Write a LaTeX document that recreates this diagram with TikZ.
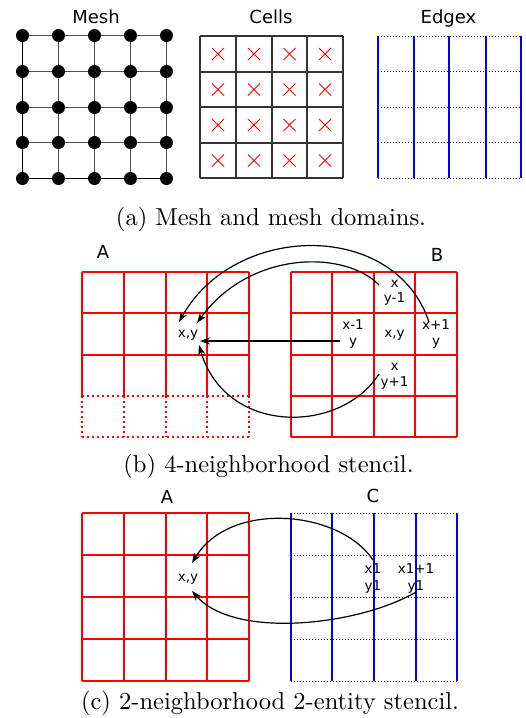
\documentclass[tikz,border=0pt]{standalone}
\usepackage{fontspec}
\usetikzlibrary{arrows.meta}
\newfontfamily\djv{DejaVu Sans}
\newfontfamily\capfont{lmroman10-regular}[Extension=.otf]
\begin{document}
\begin{tikzpicture}[x=1pt,y=-1pt,
  lbl/.style={font=\djv\fontsize{18}{20}\selectfont, anchor=base, inner sep=0pt},
  sm/.style={font=\djv\fontsize{13.5}{15.5}\selectfont, align=center, inner sep=0.5pt},
  smc/.style={font=\djv\fontsize{13.5}{17}\selectfont, align=center, inner sep=0.5pt},
  captxt/.style={font=\capfont\fontsize{24.5}{28}\selectfont, anchor=base, inner sep=0pt},
  arr/.style={-{Stealth[length=10pt,width=7pt,inset=3pt]}, line width=1.2pt, black},
  meshl/.style={black!70, line width=1pt},
  celll/.style={black!80, line width=2pt},
  redl/.style={red, line width=2pt},
  bluel/.style={blue, line width=2pt},
  dotl/.style={black, line width=1pt, dash pattern=on 1pt off 2pt},
  reddot/.style={red, line width=2pt, dash pattern=on 2pt off 3pt},
  crossl/.style={red, line width=1pt}
]
\useasboundingbox (0,0) rectangle (526,718);

% ---------- (a) ----------
\node[lbl] (mesh) at (96,23.5) {Mesh};
\node[lbl] (cells) at (271,23.5) {Cells};
\node[lbl] (edgex) at (448.5,23.5) {Edgex};

\foreach \v in {22.5,58.5,94.5,130.5,166.5}
  \draw[meshl] (\v,35.5) -- (\v,178.5);
\foreach \v in {35.5,71.5,107.5,142.5,178.5}
  \draw[meshl] (22.5,\v) -- (166.5,\v);
\draw[black, line width=1pt] (22.5,35.5) -- (22.5,178.5) -- (166.5,178.5);
\foreach \u in {22.5,58.5,94.5,130.5,166.5}
  \foreach \v in {35.5,71.5,107.5,142.5,178.5}
    \fill (\u,\v) circle[radius=6.5pt];

\foreach \v in {200,236,272,307,343}
  \draw[celll] (\v,36) -- (\v,178);
\foreach \v in {36,72,107,143,178}
  \draw[celll] (200,\v) -- (343,\v);
\foreach \u in {218,254,289.5,325}
  \foreach \v in {54,89.5,125,160.5} {
    \draw[crossl] (\u-6,\v-6) -- (\u+6,\v+6);
    \draw[crossl] (\u-6,\v+6) -- (\u+6,\v-6);
  }

\foreach \v in {36.5,71.5,107.5,142.5,178.5}
  \draw[dotl] (378,\v) -- (521,\v);
\foreach \v in {378,414,449,486,521}
  \draw[bluel] (\v,36) -- (\v,178);

\node[captxt] (capa) at (271,225) {(a) Mesh and mesh domains.};

% ---------- (b) ----------
\node[lbl] (bA) at (103,258) {A};
\node[lbl] (bB) at (437,261) {B};

\foreach \v in {82,124,166,207,249}
  \draw[redl] (\v,272) -- (\v,396);
\foreach \v in {272,313,355}
  \draw[redl] (82,\v) -- (249,\v);
\foreach \v in {82,124,166,207,249}
  \draw[reddot] (\v,396) -- (\v,437);
\foreach \v in {396,437}
  \draw[reddot] (82,\v) -- (249,\v);

\foreach \v in {291,332,374,415,457}
  \draw[redl] (\v,272) -- (\v,437);
\foreach \v in {272,313,355,396,437}
  \draw[redl] (291,\v) -- (457,\v);

\node[sm] (bxy) at (188,335.7) {x,y};
\node[sm] (bup) at (394.5,292.6) {x\\y-1};
\node[sm] (bleft) at (353,334) {x-1\\y};
\node[sm] (bmid) at (394.5,335.5) {x,y};
\node[sm] (bright) at (436,334) {x+1\\y};
\node[sm] (bdown) at (394.5,376) {x\\y+1};

\coordinate (b1s) at (340,341);
\coordinate (b1e) at (200,341);
\coordinate (b2s) at (379,285);
\coordinate (b2e) at (197,323);
\coordinate (b3s) at (429,322);
\coordinate (b3e) at (179,322);
\coordinate (b4s) at (379,374);
\coordinate (b4e) at (199,345);
\draw[arr] (b1s) -- (b1e);
\draw[arr] (b2s) .. controls (345,250) and (250,250) .. (b2e);
\draw[arr] (b3s) .. controls (395,220) and (235,222) .. (b3e);
\draw[arr] (b4s) .. controls (340,435) and (225,435) .. (b4e);

\node[captxt] (capb) at (268.5,472) {(b) 4-neighborhood stencil.};

% ---------- (c) ----------
\node[lbl] (cA) at (167,503) {A};
\node[lbl] (cC) at (373,502) {C};

\foreach \v in {82,124,166,207,249}
  \draw[redl] (\v,513) -- (\v,681);
\foreach \v in {513,555,597,639,681}
  \draw[redl] (82,\v) -- (249,\v);

\foreach \v in {513.5,555.5,597.5,639.5,681.5}
  \draw[dotl] (291,\v) -- (457,\v);

\node[sm] (cxy) at (188,579.5) {x,y};
\node[smc] (c1) at (373,578) {x1\\y1};
\node[smc] (c2) at (416,578) {x1+1\\y1};

\foreach \v in {291,332,374,416,457}
  \draw[bluel] (\v,513) -- (\v,681);

\coordinate (c1s) at (373,560);
\coordinate (c1e) at (192,563);
\coordinate (c2s) at (416,592);
\coordinate (c2e) at (192,591);
\draw[arr] (c1s) .. controls (340,510) and (230,500) .. (c1e);
\draw[arr] (c2s) .. controls (360,625) and (235,640) .. (c2e);

\node[captxt] (capc) at (270,709) {(c) 2-neighborhood 2-entity stencil.};
\end{tikzpicture}
\end{document}
